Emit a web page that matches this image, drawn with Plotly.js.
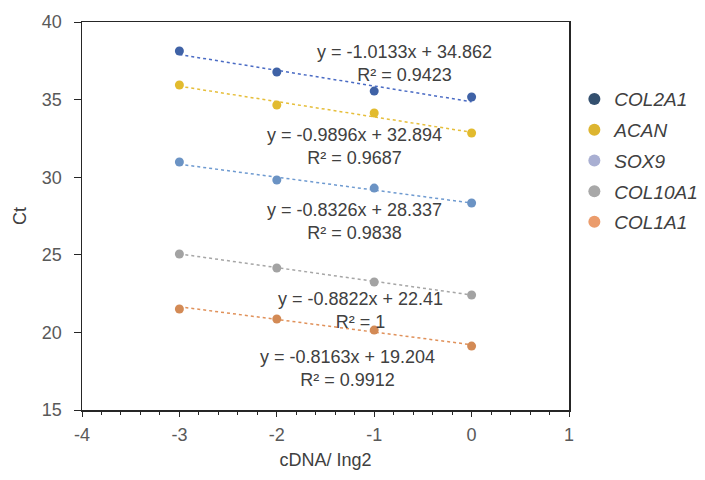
<!DOCTYPE html>
<html>
<head>
<meta charset="utf-8">
<script src="https://cdn.plot.ly/plotly-3.0.1.min.js"></script>
<style>html,body{margin:0;padding:0;background:#fff;}#chart{width:705px;height:480px;}</style>
</head>
<body>
<div id="chart"></div>
<script>
// Data
var xValues = [-3, -2, -1, 0];
var genes = ["COL2A1", "ACAN", "SOX9", "COL10A1", "COL1A1"];
var ctCOL2A1 = [38.13, 36.78, 35.55, 35.17];
var ctACAN = [35.94, 34.65, 34.14, 32.85];
var ctSOX9 = [30.98, 29.82, 29.30, 28.34];
var ctCOL10A1 = [25.05, 24.15, 23.25, 22.41];
var ctCOL1A1 = [21.51, 20.86, 20.15, 19.12];
var slopes = [-1.0133, -0.9896, -0.8326, -0.8822, -0.8163];
var intercepts = [34.862, 32.894, 28.337, 22.41, 19.204];
var eqLabels = ["y = -1.0133x + 34.862", "y = -0.9896x + 32.894", "y = -0.8326x + 28.337", "y = -0.8822x + 22.41", "y = -0.8163x + 19.204"];
var r2Labels = ["R² = 0.9423", "R² = 0.9687", "R² = 0.9838", "R² = 1", "R² = 0.9912"];
var xTickVals = [-4, -3, -2, -1, 0, 1];
var xTickText = ["-4", "-3", "-2", "-1", "0", "1"];

var series = [ctCOL2A1, ctACAN, ctSOX9, ctCOL10A1, ctCOL1A1];
var markerColors = ["#3F62A6", "#E2BB2E", "#6B93C4", "#A3A3A3", "#D38A55"];
var lineColors = ["#4A6BC4", "#E6BE3A", "#6E9AD0", "#A6A6A6", "#E0915A"];
var legendColors = ["#34506F", "#DDB530", "#A9AFD2", "#A8A8A8", "#EB9C6C"];

// annotation placement (data coords, centre of the two-line label)
var labelPos = [[-0.694, 37.33], [-1.207, 32.01], [-1.207, 27.15], [-1.136, 21.44], [-1.279, 17.67]];

var FONT = "Liberation Sans, Arial, sans-serif";
var traces = [];
var annotations = [];
for (var i = 0; i < genes.length; i++) {
  var xl = [xValues[0], xValues[xValues.length - 1]];
  var yl = xl.map(function (x) { return slopes[i] * x + intercepts[i]; });
  traces.push({
    x: xl, y: yl, mode: "lines", showlegend: false, hoverinfo: "skip",
    line: {color: lineColors[i], width: 1.5, dash: "dot"}
  });
}
for (var i = 0; i < genes.length; i++) {
  traces.push({
    x: xValues, y: series[i], mode: "markers", name: genes[i], showlegend: false,
    marker: {color: markerColors[i], size: 9}
  });
}
for (var i = 0; i < genes.length; i++) {
  traces.push({
    x: [null], y: [null], mode: "markers", name: "<i>" + genes[i] + "</i>",
    legendgroup: "g" + i,
    marker: {color: legendColors[i], size: 8}
  });
  annotations.push({x: labelPos[i][0], y: labelPos[i][1], xref: "x", yref: "y",
    text: eqLabels[i] + "<br>" + r2Labels[i], align: "center", showarrow: false,
    font: {family: FONT, size: 18, color: "#404040"}, xanchor: "center", yanchor: "middle"});
}

var layout = {
  width: 705, height: 480,
  margin: {l: 82, r: 136, t: 22, b: 70, autoexpand: false},
  paper_bgcolor: "#ffffff", plot_bgcolor: "#ffffff",
  font: {family: FONT, color: "#595959", size: 18},
  xaxis: {
    range: [-4, 1], tickmode: "array", tickvals: xTickVals, ticktext: xTickText,
    showgrid: false, zeroline: false, automargin: false,
    showline: true, linecolor: "#262626", linewidth: 1.5, mirror: true,
    ticks: "outside", ticklen: 5, tickcolor: "#262626", tickwidth: 1,
    ticklabelstandoff: 3,
    minor: {dtick: 0.2, tick0: -4, ticks: "outside", ticklen: 3, tickcolor: "#262626", showgrid: false},
    tickfont: {family: FONT, size: 18, color: "#595959"},
    title: {text: "cDNA/ Ing2", font: {family: FONT, size: 18, color: "#404040"}, standoff: 9}
  },
  yaxis: {
    range: [15, 40], dtick: 5, showgrid: false, zeroline: false, automargin: false,
    showline: true, linecolor: "#262626", linewidth: 1.5, mirror: true,
    ticks: "outside", ticklen: 7, tickcolor: "#262626", tickwidth: 1,
    ticklabelstandoff: 8,
    tickfont: {family: FONT, size: 18, color: "#595959"},
    title: {text: "Ct", font: {family: FONT, size: 18, color: "#404040"}, standoff: 10}
  },
  legend: {
    x: 1.011, xanchor: "left", y: 0.85, yanchor: "top",
    font: {family: FONT, size: 19, color: "#404040"}, tracegroupgap: 3, itemsizing: "constant",
    bgcolor: "rgba(0,0,0,0)"
  },
  annotations: annotations,
  showlegend: true
};

Plotly.newPlot("chart", traces, layout, {displayModeBar: false, staticPlot: true});
</script>
</body>
</html>
